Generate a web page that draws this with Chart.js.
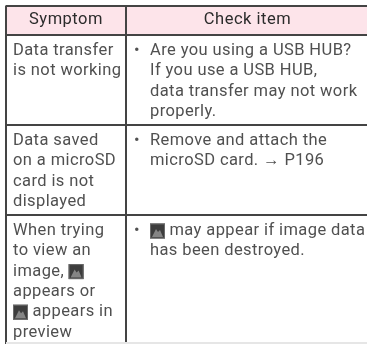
<!DOCTYPE html>
<html>
<head>
<meta charset="utf-8">
<style>
    html, body { margin: 0; padding: 0; background: #fff; }
    #wrap { width: 367px; height: 344px; overflow: hidden; }
    #table-chart { filter: blur(0.45px); }
</style>
<script src="https://cdn.jsdelivr.net/npm/chart.js@4"></script>
</head>
<body>
<div id="wrap"><canvas id="table-chart" width="367" height="344"></canvas></div>
<script>
const headers = ['Symptom', 'Check item'];
// [icon] marks where the little broken image picture sits in the line
const symptomRows = [
    ['Data transfer', 'is not working'],
    ['Data saved', 'on a microSD', 'card is not', 'displayed'],
    ['When trying', 'to view an', 'image, [icon]', 'appears or', '[icon] appears in', 'preview']
];
const checkRows = [
    ['• Are you using a USB HUB?', 'If you use a USB HUB,', 'data transfer may not work', 'properly.'],
    ['• Remove and attach the', 'microSD card. → P196'],
    ['• [icon] may appear if image data', 'has been destroyed.']
];

// table geometry, in the units of the two scales
const layout = {
    left: 5.5, top: 5.5, right: 367, bottom: 344,
    columnRule: 126.5, rowRules: [35, 125, 215], lastRule: 343,
    symptomX: 13, bulletX: 134, checkX: 150,
    firstLine: 16, linePitch: 20.3,
    headerCenters: [66, 247.5], headerY: 20
};
const rowTops = layout.rowRules;

function linePoints(rows, x) {
    const points = [];
    rows.forEach(function (lines, r) {
        lines.forEach(function (text, i) {
            points.push({ x: x, y: rowTops[r] + layout.firstLine + i * layout.linePitch, text: text });
        });
    });
    return points;
}

function drawIcon(ctx, x, y) {
    const s = 15;
    ctx.save();
    ctx.fillStyle = '#3d3d3d';
    ctx.fillRect(x, y - s / 2, s, s);
    ctx.strokeStyle = '#6b6b6b';
    ctx.strokeRect(x + 0.5, y - s / 2 + 0.5, s - 1, s - 1);
    ctx.fillStyle = '#858585';
    ctx.beginPath();
    ctx.moveTo(x + 2, y + 6);
    ctx.lineTo(x + 6, y - 2);
    ctx.lineTo(x + 8, y + 1);
    ctx.lineTo(x + 10, y - 1);
    ctx.lineTo(x + 13, y + 6);
    ctx.closePath();
    ctx.fill();
    ctx.restore();
}

function drawLine(ctx, text, x, y) {
    const parts = text.split('[icon]');
    parts.forEach(function (part, i) {
        if (i > 0) {
            drawIcon(ctx, x, y);
            x += 15;
        }
        if (part) {
            ctx.fillText(part, x, y);
            x += ctx.measureText(part).width;
        }
    });
}

const cellText = {
    id: 'cellText',
    afterDatasetsDraw(chart) {
        const ctx = chart.ctx;
        ctx.save();
        ctx.textBaseline = 'middle';
        chart.data.datasets.forEach(function (ds, d) {
            if (!ds.isText) return;
            chart.getDatasetMeta(d).data.forEach(function (el, i) {
                let text = ds.data[i].text;
                ctx.font = ds.textFont;
                ctx.letterSpacing = ds.textSpacing;
                ctx.fillStyle = ds.textColor;
                ctx.textAlign = ds.textAlign;
                if (text.startsWith('• ')) {
                    ctx.fillText('•', chart.scales.x.getPixelForValue(layout.bulletX), el.y);
                    text = text.slice(2);
                }
                drawLine(ctx, text, el.x, el.y);
            });
        });
        ctx.restore();
    }
};

const bodyFont = '16.5px Roboto';
const textDefaults = { type: 'scatter', isText: true, pointRadius: 0, textAlign: 'left', textFont: bodyFont, textSpacing: '0.4px', textColor: '#505050' };

new Chart(document.getElementById('table-chart').getContext('2d'), {
    data: {
        datasets: [
            Object.assign({}, textDefaults, { label: 'Symptom', data: linePoints(symptomRows, layout.symptomX) }),
            Object.assign({}, textDefaults, { label: 'Check item', data: linePoints(checkRows, layout.checkX) }),
            Object.assign({}, textDefaults, {
                label: 'Header',
                textAlign: 'center',
                textSpacing: '0.5px',
                textColor: '#2b2b2b',
                data: headers.map(function (h, i) {
                    return { x: layout.headerCenters[i], y: layout.headerY, text: h };
                })
            }),
            {
                type: 'line',
                label: 'Header fill',
                data: [{ x: layout.left, y: layout.top }, { x: layout.right, y: layout.top }],
                pointRadius: 0,
                borderWidth: 0,
                fill: { value: layout.rowRules[0] },
                backgroundColor: '#fde4ea',
                order: 10
            }
        ]
    },
    plugins: [cellText],
    options: {
        responsive: false,
        animation: false,
        layout: { padding: { left: layout.left, top: layout.top } },
        plugins: { legend: { display: false }, tooltip: { enabled: false } },
        scales: {
            x: {
                type: 'linear',
                min: layout.left,
                max: layout.right,
                afterBuildTicks(axis) {
                    axis.ticks = [{ value: layout.left }, { value: layout.columnRule }];
                },
                ticks: { display: false },
                border: { display: false },
                grid: { color: '#444', lineWidth: 2, drawTicks: false, z: 1 }
            },
            y: {
                type: 'linear',
                reverse: true,
                min: layout.top,
                max: layout.bottom,
                afterBuildTicks(axis) {
                    axis.ticks = [layout.top].concat(layout.rowRules, layout.lastRule).map(function (v) {
                        return { value: v };
                    });
                },
                ticks: { display: false },
                border: { display: false },
                grid: {
                    color: function (c) { return c.tick && c.tick.value === layout.lastRule ? '#e6e6e6' : '#444'; },
                    lineWidth: 2,
                    drawTicks: false,
                    z: 1
                }
            }
        }
    }
});
</script>
</body>
</html>
